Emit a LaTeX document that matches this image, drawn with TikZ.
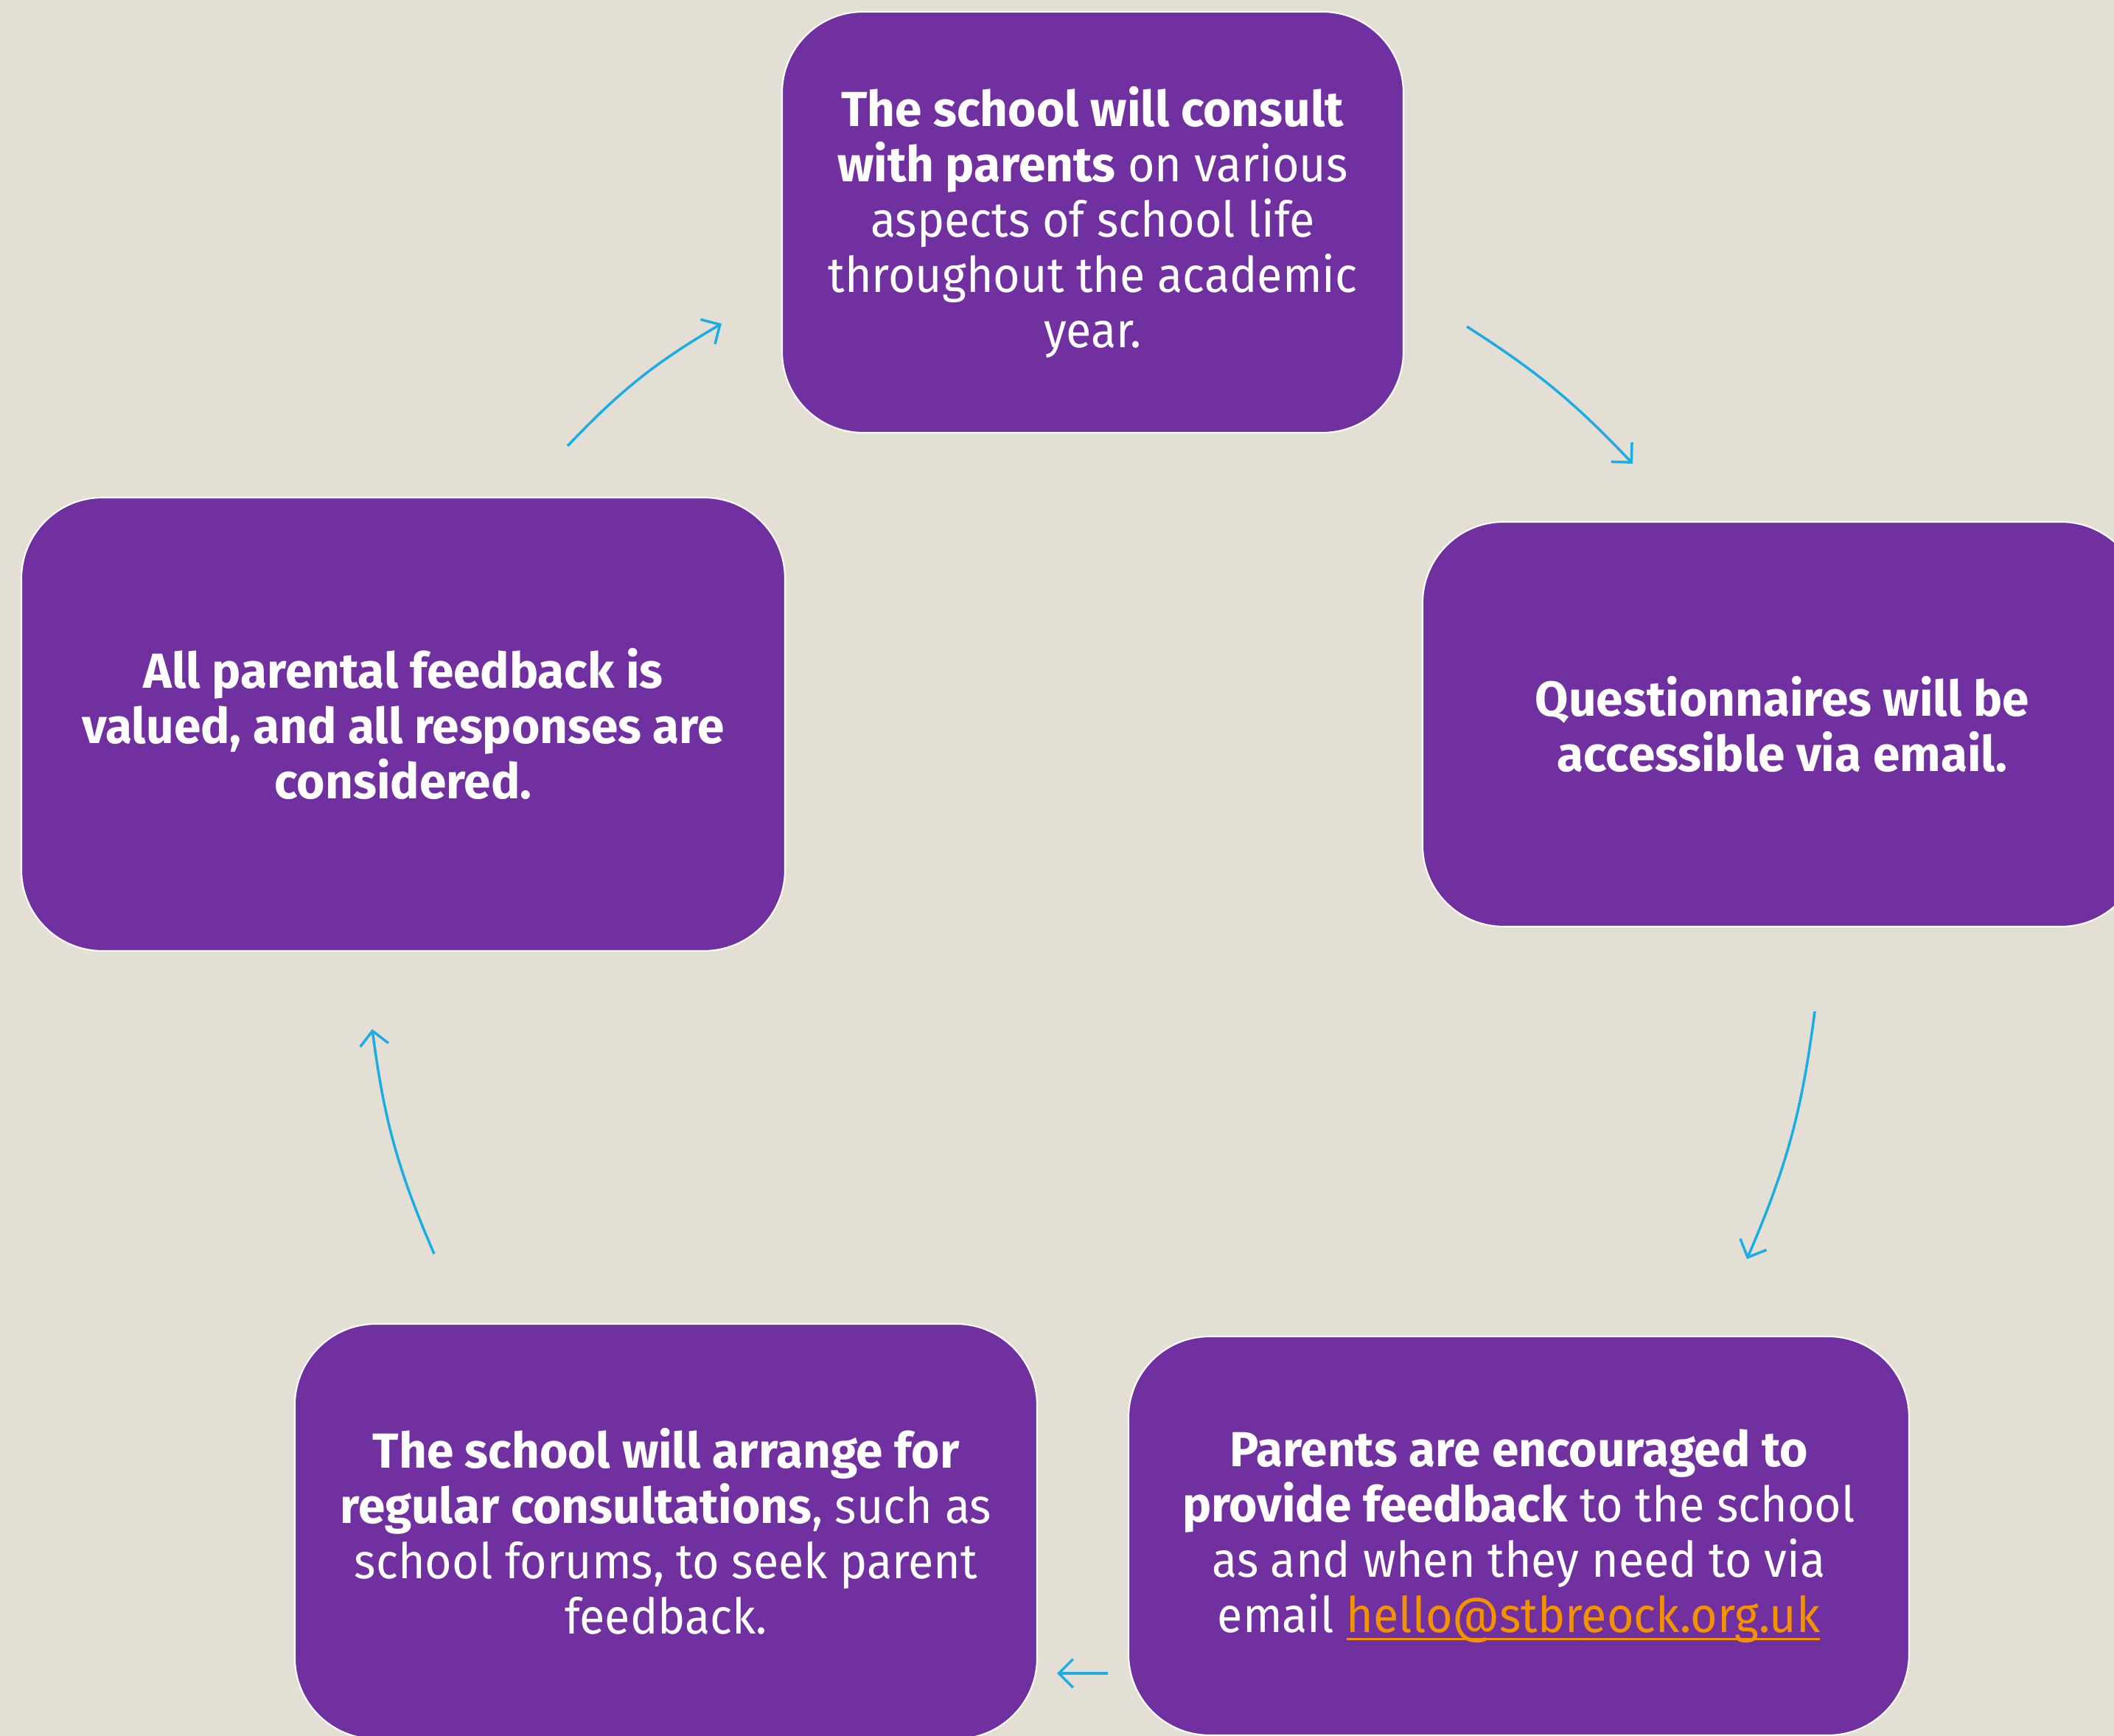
\documentclass[tikz,border=0pt]{standalone}
\usepackage{fontspec}
\setsansfont{Fira Sans}[UprightFeatures={FakeStretch=0.94},BoldFeatures={FakeStretch=0.985}]
\usetikzlibrary{arrows.meta}
\definecolor{spurple}{HTML}{7030A0}
\definecolor{sbeige}{HTML}{E4DFD4}
\definecolor{scyan}{HTML}{1CADE4}
\definecolor{sorange}{HTML}{F39200}
\newcommand{\cardfont}{\sffamily\fontsize{19}{21.34}\selectfont}
\newcommand{\maillink}[1]{\textcolor{sorange}{\setbox0\hbox{#1}\rlap{\rule[-3.2pt]{\wd0}{1.1pt}}\box0}}
\tikzset{
  stepcard/.style={rectangle,rounded corners=1.1cm,draw=white,line width=.6pt,fill=spurple,text=white,align=center,font=\cardfont},
  flow/.style={-{Straight Barb[length=5.5pt,width=11pt]},draw=scyan,line width=1pt},
}

\begin{document}
\begin{tikzpicture}
  \fill[sbeige] (0,0) rectangle (28.68,23.55);
  \useasboundingbox (0,0) rectangle (28.68,23.55);
  \clip (0,0) rectangle (28.68,23.55);
  % the five steps, clockwise from the top
  \node[stepcard,minimum width=8.43cm,minimum height=5.71cm] (consult) at (14.825,20.535) {\textbf{The school will consult}\\\textbf{with parents} on various\\aspects of school life\\throughout the academic\\year.};
  \node[stepcard,minimum width=9.76cm,minimum height=5.49cm] (survey) at (24.18,13.725) {\textbf{Questionnaires will be}\\\textbf{accessible via email.}};
  \node[stepcard,minimum width=10.59cm,minimum height=5.41cm] (encourage) at (20.605,2.715) {\textbf{Parents are encouraged to}\\\textbf{provide feedback} to the school\\as and when they need to via\\email \maillink{hello@stbreock.org.uk}};
  \node[stepcard,minimum width=10.07cm,minimum height=5.63cm] (forums) at (9.035,2.775) {\textbf{The school will arrange for}\\\textbf{regular consultations}, such as\\school forums, to seek parent\\feedback.};
  \node[stepcard,minimum width=10.36cm,minimum height=6.15cm] (valued) at (5.47,13.725) {\textbf{All parental feedback is}\\\textbf{valued, and all responses are}\\\textbf{considered.}};
  % arrow ends
  \coordinate (valued-out) at (7.70,17.50);
  \coordinate (consult-in) at (9.79,19.16);
  \coordinate (consult-out) at (19.90,19.12);
  \coordinate (survey-in) at (22.15,17.26);
  \coordinate (survey-out) at (24.62,9.83);
  \coordinate (encourage-in) at (23.70,6.47);
  \coordinate (encourage-out) at (15.03,0.85);
  \coordinate (forums-in) at (14.34,0.85);
  \coordinate (forums-out) at (5.89,6.54);
  \coordinate (valued-in) at (5.05,9.59);
  \draw[flow] (valued-out) to[bend left=8] (consult-in);
  \draw[flow] (consult-out) to[bend left=7] (survey-in);
  \draw[flow] (survey-out) to[bend left=8] (encourage-in);
  \draw[flow] (encourage-out) -- (forums-in);
  \draw[flow] (forums-out) to[bend left=8] (valued-in);
\end{tikzpicture}
\end{document}
